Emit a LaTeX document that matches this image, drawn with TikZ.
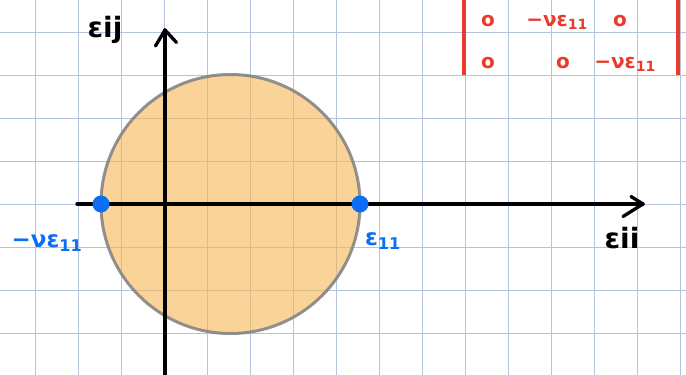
\documentclass[tikz,border=0pt]{standalone}
\usepackage{fontspec}
\setmainfont{DejaVu Sans}
\definecolor{gridc}{RGB}{180,196,222}
\definecolor{fillc}{RGB}{247,182,85}
\definecolor{bluec}{RGB}{12,110,245}
\definecolor{redc}{RGB}{234,58,44}
\begin{document}
\begin{tikzpicture}[x=1pt,y=-1pt,
  gridline/.style={draw=gridc,line width=1.2pt},
  axisline/.style={line width=3.3pt,line cap=round,line join=round},
  dotnode/.style={circle,fill=bluec,inner sep=0pt,minimum size=17pt},
  bluelabel/.style={text=bluec,font=\bfseries\fontsize{23}{25}\selectfont},
  blacklabel/.style={text=black,font=\bfseries\fontsize{28}{30}\selectfont},
  redlabel/.style={text=redc,font=\bfseries\fontsize{20}{22}\selectfont},
  redbar/.style={draw=redc,line width=4pt}]
\useasboundingbox (0,0) rectangle (686,375);
\fill[white] (0,0) rectangle (686,375);
% grid
\foreach \i in {0,...,15} \draw[gridline] ({35.3+43*\i},0) -- ++(0,375);
\foreach \j in {0,...,7} \draw[gridline] (0,{32.3+43*\j}) -- ++(686,0);
% circle
\node[circle,minimum size=259pt,inner sep=0pt,fill=fillc,fill opacity=0.6,draw=black!50,draw opacity=0.85,line width=3pt] (mohr) at (230.5,204) {};
% axes
\coordinate (xs) at (77,204);
\coordinate (xe) at (643,204);
\coordinate (ys) at (165,380);
\coordinate (ye) at (165,30);
\draw[axisline] (xs) -- (xe);
\draw[axisline] (631,196.5) -- (xe) -- (623,216.5);
\draw[axisline] (ys) -- (ye);
\draw[axisline] (155.5,46) -- (ye) -- (176.5,42.5);
% points
\node[dotnode] (pl) at (101,204) {};
\node[dotnode] (pr) at (360,204) {};
% labels
\node[bluelabel] (lpr) at (383,241) {ε\textsubscript{11}};
\node[bluelabel] (lpl) at (47,243) {−νε\textsubscript{11}};
\node[blacklabel] (lx) at (622,238) {εii};
\node[blacklabel] (ly) at (105,30) {εij};
% matrix
\draw[redbar] (464,0) -- (464,75);
\draw[redbar] (678,0) -- (678,75);
\node[redlabel] (m11) at (488,21) {o};
\node[redlabel] (m12) at (557,22) {−νε\textsubscript{11}};
\node[redlabel] (m13) at (620,21) {o};
\node[redlabel] (m21) at (488,63) {o};
\node[redlabel] (m22) at (563,63) {o};
\node[redlabel] (m23) at (625,64) {−νε\textsubscript{11}};
\end{tikzpicture}
\end{document}
